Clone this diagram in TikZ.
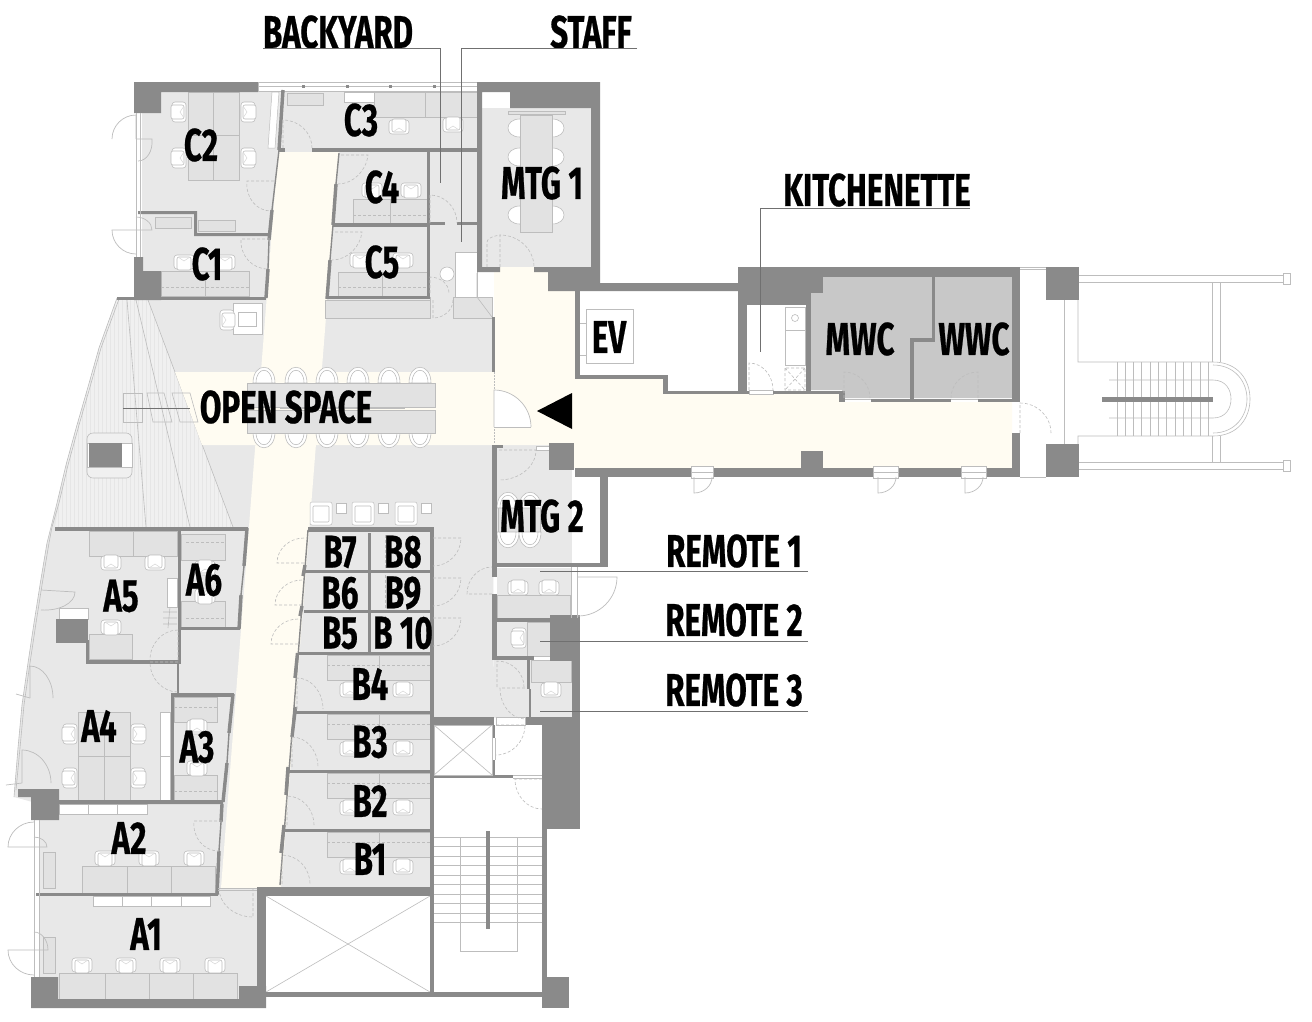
\documentclass[tikz,border=0pt]{standalone}
\usepackage{fontspec}
\usetikzlibrary{calc}
\newfontfamily\labf[FakeStretch=0.68,FakeBold=0.5]{Fira Sans}
\definecolor{wallc}{HTML}{8A8A8A}
\definecolor{floorc}{HTML}{E8E8E8}
\definecolor{creamc}{HTML}{FFFCF2}
\definecolor{wcc}{HTML}{C8C8C8}
\definecolor{loungec}{HTML}{F0F0F0}
\definecolor{stripec}{HTML}{E6E6E6}
\definecolor{deskc}{HTML}{E2E2E2}
\definecolor{edgec}{HTML}{BDBDBD}
\definecolor{softc}{HTML}{D6D6D6}
\definecolor{leadc}{HTML}{707070}
\tikzset{
  wallf/.style={fill=wallc,draw=none},
  thick wall/.style={draw=wallc,line width=3.4pt},
  thin wall/.style={draw=wallc,line width=1.4pt},
  deskbox/.style={fill=deskc,draw=edgec,line width=.5pt},
  whitebox/.style={fill=white,draw=edgec,line width=.5pt},
  fine/.style={draw=edgec,line width=.6pt},
  doorline/.style={draw=edgec,line width=.6pt,dash pattern=on 3pt off 2pt},
  solidoor/.style={draw=edgec,line width=.7pt},
  leader/.style={draw=leadc,line width=.8pt},
  lab/.style={inner sep=0pt,font=\labf\bfseries\fontsize{46}{46}\selectfont,text=black},
}
% quarter door: hinge, leaf vector, arc-end vector
\newcommand{\doorq}[7][doorline]{\draw[#1] (#2,#3) -- ++(#4,#5) .. controls ($(#2,#3)+(#4,#5)+.55*(#6,#7)$) and ($(#2,#3)+(#6,#7)+.55*(#4,#5)$) .. ($(#2,#3)+(#6,#7)$);}
\newcommand{\chairat}[3]{\begin{scope}[shift={(#1,#2)},rotate=#3]
  \draw[fill=white,draw=edgec,line width=.6pt,rounded corners=3pt] (-10,-7) rectangle (10,7);
  \draw[fill=white,draw=edgec,line width=.6pt,rounded corners=2pt] (-7,-5) rectangle (7,8);
  \draw[draw=softc,line width=.5pt] (-6,-5) -- (0,-1) -- (6,-5);
\end{scope}}
\newcommand{\archtop}[2]{\draw[fill=white,draw=edgec,line width=.6pt] (#1-11,#2+18) .. controls (#1-11,#2-3) and (#1+11,#2-3) .. (#1+11,#2+18) -- cycle;
  \draw[fine] (#1-8,#2+18) .. controls (#1-8,#2+1) and (#1+8,#2+1) .. (#1+8,#2+18);}
\newcommand{\archbot}[2]{\draw[fill=white,draw=edgec,line width=.6pt] (#1-11,#2) .. controls (#1-11,#2+21) and (#1+11,#2+21) .. (#1+11,#2) -- cycle;
  \draw[fine] (#1-8,#2) .. controls (#1-8,#2+17) and (#1+8,#2+17) .. (#1+8,#2);}
\newcommand{\gapwin}[4]{\fill[white] (#1,#2) rectangle (#3,#4); \draw[fine] (#1,#2) rectangle (#3,#4); \draw[fine] (#1,{(#2+#4)/2}) -- (#3,{(#2+#4)/2});}
\begin{document}
\begin{tikzpicture}[x=1pt,y=-1pt]
\useasboundingbox (0,0) rectangle (1312,1021);
\fill[white] (0,0) rectangle (1312,1021);
%---------- floors
\fill[floorc] (142,92) -- (477,92) -- (477,297) -- (492,317) -- (494,718) -- (434,718) -- (434,887) -- (257,887) -- (257,999) -- (40,999) -- (40,804) -- (14,797) -- (18,748) -- (22,705) -- (28,663) -- (34,623) -- (40,585) -- (47,543) -- (57,503) -- (66,465) -- (77,425) -- (88,387) -- (99,348) -- (117,298) -- (134,298) -- (142,260) -- cycle;
\fill[floorc] (482,92) rectangle (591,267);
\fill[floorc] (497,444) rectangle (572,563);
\fill[floorc] (497,568) rectangle (571,618);
\fill[floorc] (497,622) rectangle (550,656);
\fill[floorc] (494,656) rectangle (530,718);
\fill[floorc] (527,660) rectangle (572,719);
\fill[wcc] (811,277) -- (1012,277) -- (1012,398) -- (842,398) -- (842,390) -- (811,390) -- cycle;
%---------- lounge
\fill[loungec] (117,298) -- (148,300) -- (233,527) -- (55,527) -- (66,465) -- (77,425) -- (88,387) -- (99,348) -- cycle;
\begin{scope}
\clip (117,298) -- (148,300) -- (233,527) -- (55,527) -- (66,465) -- (77,425) -- (88,387) -- (99,348) -- cycle;
\foreach \xx in {50,54,...,234}{\draw[stripec,line width=.4pt] (\xx,298) -- (\xx,527);}
\end{scope}
\draw[fine] (127,300) -- (146,527) (136,300) -- (190,527) (148,300) -- (233,527);
\draw[fine] (119,299) -- (101,348) -- (90,387) -- (79,425) -- (68,465) -- (59,503) -- (52,527) -- (49,543) -- (42,585) -- (36,623) -- (30,663) -- (24,705) -- (20,748) -- (16,790);
\draw[fine] (117,298) -- (99,348) -- (88,387) -- (77,425) -- (66,465) -- (57,503) -- (47,543) -- (40,585) -- (34,623) -- (28,663) -- (22,705) -- (18,748) -- (14,797);
%---------- cream circulation
\fill[creamc] (278,152) -- (339,152) -- (281,888) -- (221,888) -- cycle;
\fill[creamc] (175,372) -- (494,372) -- (494,445) -- (202,445) -- cycle;
\fill[creamc] (494,267) -- (548,267) -- (548,291) -- (578,291) -- (578,375) -- (665,379) -- (665,393) -- (842,393) -- (842,402) -- (1012,402) -- (1012,468) -- (574,468) -- (574,445) -- (494,445) -- cycle;
%---------- EV and kitchen white
\fill[white] (580,291) -- (738,291) -- (738,391) -- (668,391) -- (668,375) -- (580,375) -- cycle;
\draw[fine] (586,309) rectangle (633,363);
\draw[fine,fill=white] (577,323) rectangle (586,355);
\draw[whitebox] (785,307) rectangle (805,330);
\draw[fine] (795,318) circle (3.5);
\draw[whitebox] (785,330) rectangle (805,365);
\draw[doorline] (785,368) rectangle (805,390) (785,368) -- (805,390) (805,368) -- (785,390);
%---------- C zone furniture
\draw[deskbox] (188,92) rectangle (239,180);
\draw[fine] (213,92) -- (213,180) (188,135) -- (239,135);
\chairat{179}{112}{-90}\chairat{179}{158}{-90}\chairat{248}{112}{90}\chairat{248}{158}{90}
\draw[whitebox] (272,92) -- (279,92) -- (275,148) -- (268,148) -- cycle;
\draw[deskbox] (155,217) rectangle (191,228);
\draw[deskbox] (198,220) rectangle (235,231);
\draw[deskbox] (161,271) rectangle (249,296);
\draw[fine] (205,271) -- (205,296);
\draw[doorline] (161,287) -- (249,287);
\chairat{184}{262}{0}\chairat{225}{262}{0}
\draw[deskbox] (287,93) rectangle (323,105);
\draw[whitebox] (344,92) rectangle (374,102);
\draw[deskbox] (374,92) rectangle (477,117);
\draw[fine] (425,92) -- (425,117);
\chairat{399}{127}{180}\chairat{453}{125}{180}
\draw[deskbox] (353,199) rectangle (427,223);
\draw[fine] (390,199) -- (390,223);
\draw[doorline] (353,215) -- (427,215);
\chairat{411}{190}{0}\chairat{372}{190}{0}
\draw[deskbox] (338,272) rectangle (427,296);
\draw[fine] (382,272) -- (382,296);
\draw[doorline] (338,287) -- (427,287);
\chairat{360}{260}{0}\chairat{403}{260}{0}
% backyard + staff
\draw[whitebox] (455,252) rectangle (477,297);
\draw[fine,fill=white] (447,274) circle (7);
\draw[deskbox] (453,297) rectangle (492,318);
\draw[deskbox] (325,300) rectangle (430,318);
\draw[fine] (477,273) -- (477,297) -- (492,317);
\draw[fine] (430,297) -- (430,318);
% copier
\draw[whitebox] (233,303) rectangle (262,334);
\draw[fine] (238,312) rectangle (256,326);
\chairat{227}{320}{90}
%---------- MTG 1
\fill[white] (482,92) rectangle (510,108);
\draw[deskbox] (508,111) rectangle (565,114);
\foreach \yy in {128,157,215}{
  \draw[fill=white,draw=edgec,line width=.6pt] (520,\yy-9) .. controls (504,\yy-9) and (504,\yy+9) .. (520,\yy+9);
  \draw[fill=white,draw=edgec,line width=.6pt] (552,\yy-9) .. controls (568,\yy-9) and (568,\yy+9) .. (552,\yy+9);
}
\draw[deskbox] (520,115) rectangle (552,232);
%---------- open space table
\foreach \xx in {264,296,327,358,389,420}{\archtop{\xx}{365}\archbot{\xx}{432}}
\draw[deskbox] (247,383) rectangle (435,407);
\draw[deskbox] (247,410) rectangle (435,433);
\draw[fine] (280,408.5) -- (405,408.5);
% lounge items
\draw[fine] (123,393) rectangle (142,422);
\draw[fine] (147,393) -- (164,393) -- (172,422) -- (153,422) -- cycle;
\draw[fine] (172,393) -- (190,393) -- (198,422) -- (180,422) -- cycle;
\draw[leadc,line width=.5pt] (123,408) -- (190,408);
\draw[fill=loungec,draw=edgec,line width=.6pt,rounded corners=6pt] (87,433) -- (132,433) -- (132,478) -- (87,478) -- cycle;
\draw[whitebox] (87,443) rectangle (132,467);
\fill[wallc] (89,443) rectangle (122,467);
% armchairs
\foreach \xx in {310,352,395}{\draw[whitebox,rounded corners=2pt] (\xx,502) rectangle (\xx+22,525); \draw[fine,rounded corners=1pt] (\xx+3,506) rectangle (\xx+19,522);}
\foreach \xx in {336,378,421}{\draw[whitebox] (\xx,503) rectangle (\xx+10,513);}
%---------- A zone furniture
\draw[deskbox] (89,531) rectangle (177,556);
\draw[fine] (133,531) -- (133,556);
\chairat{111}{563}{180}\chairat{155}{563}{180}
\draw[deskbox] (89,634) rectangle (132,659);
\chairat{111}{627}{0}
\draw[whitebox] (167,578) rectangle (177,607);
\draw[fine] (163,612) -- (177,612) (163,618) -- (177,618) (163,624) -- (177,624) (170,607) -- (168,628);
\draw[whitebox] (59,608) rectangle (88,619);
\draw[deskbox] (181,534) rectangle (225,560);
\draw[doorline] (186,542) -- (225,542);
\chairat{205}{568}{180}
\draw[deskbox] (181,601) rectangle (225,627);
\draw[doorline] (186,618) -- (225,618);
\chairat{205}{596}{0}
\draw[deskbox] (78,712) rectangle (130,800);
\draw[fine] (104,712) -- (104,800) (78,756) -- (130,756);
\chairat{70}{734}{-90}\chairat{70}{778}{-90}\chairat{138}{734}{90}\chairat{138}{778}{90}
\draw[whitebox] (160,712) rectangle (170,800);
\draw[fine] (160,756) -- (170,756);
\draw[deskbox] (174,697) rectangle (217,722);
\draw[doorline] (174,707) -- (217,707);
\chairat{197}{727}{180}
\draw[deskbox] (174,775) rectangle (217,800);
\draw[doorline] (174,791) -- (217,791);
\chairat{197}{768}{0}
\draw[whitebox] (59,804) rectangle (147,814);
\draw[fine] (88,804) -- (88,814) (117,804) -- (117,814);
\chairat{105}{858}{0}\chairat{149}{858}{0}\chairat{194}{858}{0}
\draw[deskbox] (82,866) rectangle (215,893);
\draw[fine] (127,866) -- (127,893) (171,866) -- (171,893);
\draw[deskbox] (43,852) rectangle (55,888);
\draw[deskbox] (43,937) rectangle (55,973);
\draw[whitebox] (93,896) rectangle (210,906);
\draw[fine] (122,896) -- (122,906) (151,896) -- (151,906) (181,896) -- (181,906);
\chairat{82}{965}{0}\chairat{126}{965}{0}\chairat{170}{965}{0}\chairat{215}{965}{0}
\draw[deskbox] (59,973) rectangle (237,999);
\draw[fine] (105,973) -- (105,999) (149,973) -- (149,999) (193,973) -- (193,999);
%---------- B zone furniture
\foreach \yy in {655,714,773,832}{
  \chairat{350}{\yy+35}{180}\chairat{403}{\yy+35}{180}
  \draw[deskbox] (327,\yy) rectangle (430,\yy+25);
  \draw[fine] (379,\yy) -- (379,\yy+25);
  \draw[doorline] (327,\yy+10) -- (430,\yy+10);
}
\draw[doorline] (385,535) -- (385,568) (385,575) -- (385,608) (385,616) -- (385,650);
%---------- Remote rooms + MTG 2
\draw[deskbox] (498,504) rectangle (540,532);
\foreach \xx in {508,530}{\archtop{\xx}{490}\archbot{\xx}{532}}
\draw[deskbox] (497,595) rectangle (570,618);
\chairat{518}{588}{180}\chairat{549}{588}{180}
\draw[deskbox] (527,622) rectangle (550,656);
\chairat{519}{638}{-90}
\draw[deskbox] (531,660) rectangle (571,682);
\chairat{551}{690}{180}
%---------- walls: top-left block
\fill[wallc] (134,82) -- (258,82) -- (258,92) -- (161,92) -- (161,113) -- (134,113) -- cycle;
\draw[fine] (258,82) rectangle (477,91);
\draw[fine] (258,86) -- (477,86);
\foreach \xx in {302,346,389,433}{\fill[wallc] (\xx,85) rectangle (\xx+3,88);}
\fill[wallc] (477,82) -- (600,82) -- (600,283) -- (738,283) -- (738,291) -- (600,291) -- (548,291) -- (548,272) -- (534,272) -- (534,267) -- (591,267) -- (591,108) -- (510,108) -- (510,92) -- (482,92) -- (482,267) -- (500,267) -- (500,272) -- (477,272) -- cycle;
% C walls
\fill[wallc] (312,148) rectangle (477,152);
\fill[wallc] (279,148) rectangle (285,152);
\draw[thick wall] (283,90) -- (279,150);
\draw[thin wall] (279,150) -- (272,210);
\draw[thick wall] (272,210) -- (269,240);
\draw[thin wall] (269,240) -- (268,269);
\draw[thick wall] (268,269) -- (266,298);
\draw[thin wall] (339,153) -- (336,184);
\draw[thick wall] (336,184) -- (333,225);
\draw[thin wall] (333,225) -- (330,260);
\draw[thick wall] (330,260) -- (327,299);
\fill[wallc] (427,152) rectangle (430,299);
\fill[wallc] (333,223) rectangle (430,227);
\fill[wallc] (430,222) rectangle (445,225);
\fill[wallc] (457,222) rectangle (477,225);
\fill[wallc] (327,296) rectangle (430,299);
\fill[wallc] (117,297) rectangle (266,300);
\fill[wallc] (134,300) -- (161,300) -- (161,271) -- (143,271) -- (143,257) -- (134,257) -- cycle;
\fill[wallc] (138,211) -- (197,211) -- (197,233) -- (269,233) -- (269,236) -- (194,236) -- (194,214) -- (138,214) -- cycle;
\draw[fine] (136,113) -- (136,257) (140,113) -- (140,257);
%---------- central partition
\fill[wallc] (492,317) rectangle (495,372);
\draw[edgec,line width=.5pt,dash pattern=on 2pt off 1pt] (494,372) -- (494,443);
\fill[wallc] (492,445) rectangle (497,577);
\fill[wallc] (497,445) rectangle (503,448);
\draw[whitebox] (536,446) rectangle (549,450);
\fill[wallc] (492,594) rectangle (497,660);
\fill[white] (494,427) -- (494,390) .. controls (514,390) and (531,407) .. (531,427) -- cycle;
\doorq[solidoor]{494}{427}{0}{-37}{37}{0}
\draw[solidoor] (494,427) -- (531,427);
%---------- A walls
\fill[wallc] (55,527) rectangle (248,531);
\fill[wallc] (178,531) rectangle (181,663);
\fill[wallc] (86,660) rectangle (181,664);
\fill[wallc] (86,640) rectangle (89,664);
\fill[wallc] (56,619) rectangle (88,643);
\fill[wallc] (179,627) rectangle (240,630);
\draw[thin wall] (178,664) -- (178,693);
\draw[thick wall] (247,528) -- (244,566);
\draw[thin wall] (244,566) -- (241,595);
\draw[thick wall] (241,595) -- (239,629);
\fill[wallc] (171,693) rectangle (234,697);
\fill[wallc] (171,693) rectangle (174,803);
\draw[thick wall] (233,694) -- (229,733);
\draw[thin wall] (229,733) -- (227,763);
\draw[thick wall] (227,763) -- (223,802);
\fill[wallc] (18,789) -- (59,789) -- (59,800) -- (223,800) -- (223,804) -- (59,804) -- (59,820) -- (31,820) -- (31,797) -- (18,797) -- cycle;
\draw[thick wall] (222,804) -- (221,822);
\draw[thin wall] (221,822) -- (219,851);
\draw[thick wall] (219,851) -- (217,895);
\fill[wallc] (36,893) rectangle (218,896);
\draw[fine] (34,820) -- (34,977) (39,820) -- (39,977);
\draw[fine] (218,888) -- (257,888) (218,890) -- (257,890);
\fill[wallc] (257,887) rectangle (266,986);
\fill[wallc] (31,977) -- (58,977) -- (58,999) -- (239,999) -- (239,986) -- (266,986) -- (266,1008) -- (31,1008) -- cycle;
%---------- B walls
\fill[wallc] (308,527) rectangle (434,532);
\fill[wallc] (430,527) rectangle (434,992);
\draw[thin wall] (308,530) -- (280,885);
\draw[thick wall] (295.5,707) -- (292,737);
\draw[thick wall] (288,767) -- (286,795);
\draw[thick wall] (284,825) -- (281,853);
\draw[thick wall] (297.5,653) -- (295,678);
\draw[thick wall] (305,565) -- (303,576);
\draw[thick wall] (302,606) -- (300,616);
\foreach \yy in {570,610}{\fill[wallc] (304,\yy) rectangle (430,\yy+3);}
\fill[wallc] (298,652) rectangle (430,655);
\fill[wallc] (368,533) rectangle (371,652);
\fill[wallc] (294,711) rectangle (430,714);
\fill[wallc] (289,770) rectangle (430,773);
\fill[wallc] (285,829) rectangle (430,832);
%---------- void + core
\fill[wallc] (257,887) rectangle (430,896);
\draw[fine] (266,896) -- (430,992) (430,896) -- (266,992);
\fill[wallc] (266,992) rectangle (542,997);
\fill[white] (434,725) rectangle (542,992);
\fill[wallc] (430,717) rectangle (494,725);
\fill[wallc] (525,717) rectangle (580,725);
\draw[fine,fill=white] (496,717) rectangle (525,725);
\fill[wallc] (430,717) rectangle (434,997);
\fill[wallc] (434,775) rectangle (513,778);
\draw[fine] (513,775) -- (542,775) (513,778) -- (542,778);
\fill[wallc] (492,725) rectangle (495,775);
\draw[fine] (434,725) rectangle (492,775);
\draw[fine] (434,725) -- (492,775) (492,725) -- (434,775);
\fill[white] (492.5,738) rectangle (495,760);
\draw[fine] (492,738) -- (492,760) (495,738) -- (495,760);
% stairs
\foreach \yy in {837,846.5,856,865.5,875,884.5,894,903.5,913,922}{\draw[fine] (434,\yy) -- (542,\yy);}
\draw[fine] (460,837) -- (460,951) -- (517,951) -- (517,837);
\fill[wallc] (486,831) rectangle (490,929);
% right mass
\fill[wallc] (572,617) rectangle (580,725);
\fill[wallc] (550,615) rectangle (580,661);
\fill[wallc] (542,725) rectangle (580,829);
\fill[wallc] (542,829) rectangle (547,997);
\fill[wallc] (542,977) rectangle (569,1008);
% remote rooms walls
\fill[wallc] (492,563) rectangle (608,567);
\fill[wallc] (600,477) rectangle (608,567);
\fill[wallc] (497,618) rectangle (550,622);
\fill[wallc] (497,656) rectangle (534,660);
\fill[wallc] (527,660) rectangle (530,689);
\draw[thin wall] (530,689) -- (530,717);
\draw[fine] (571,567) -- (571,618) (577,567) -- (577,618);
\doorq[solidoor]{578}{577}{39}{0}{0}{39}
%---------- right wing walls
\fill[wallc] (549,443) rectangle (574,470);
\fill[wallc] (575,468) rectangle (1020,477);
\fill[wallc] (801,451) rectangle (823,470);
\gapwin{691}{466}{713}{478}
\gapwin{873}{466}{898}{478}
\gapwin{961}{466}{986}{478}
\fill[wallc] (575,291) rectangle (580,375);
\fill[wallc] (575,375) rectangle (668,379);
\fill[wallc] (663,375) rectangle (668,394);
\fill[wallc] (663,391) rectangle (749,394);
\draw[fine,fill=white] (749,390.5) rectangle (773,394);
\fill[wallc] (773,391) rectangle (842,394);
\fill[wallc] (839,391) rectangle (845,402);
\fill[wallc] (871,399) rectangle (951,402);
\fill[wallc] (978,399) rectangle (1020,402);
\draw[fine] (845,399) -- (871,399) (951,399) -- (978,399);
\fill[wallc] (738,267) rectangle (1020,277);
\fill[wallc] (738,267) rectangle (747,394);
\fill[wallc] (747,277) rectangle (806,305);
\fill[wallc] (803,277) rectangle (823,293);
\fill[wallc] (806,277) rectangle (811,391);
\fill[wallc] (1012,267) rectangle (1020,402);
\fill[wallc] (1012,433) rectangle (1020,477);
\fill[wallc] (932,277) rectangle (935,342);
\fill[wallc] (910,338) rectangle (935,342);
\fill[wallc] (910,338) rectangle (914,399);
\draw[fine] (1020,267) -- (1046,267) (1020,269) -- (1046,269) (1020,477) -- (1046,477);
\fill[wallc] (1046,267) rectangle (1079,300);
\fill[wallc] (1046,444) rectangle (1079,477);
%---------- external stair
\draw[fine] (1064,300) -- (1064,444);
\draw[fine] (1079,275) -- (1283,275) (1079,282) -- (1283,282) (1079,462) -- (1283,462) (1079,469) -- (1283,469);
\draw[fine] (1283,273) rectangle (1290,284) (1283,460) rectangle (1290,471);
\draw[fine] (1212,282) -- (1212,362) (1220,282) -- (1220,362) (1212,436) -- (1212,462) (1220,436) -- (1220,462);
\draw[fine] (1078,300) -- (1078,362) -- (1213,362) .. controls (1238,362) and (1250,380) .. (1250,399) .. controls (1250,418) and (1238,436) .. (1213,436) -- (1078,436) -- (1078,444);
\draw[fine] (1213,365) .. controls (1235,365) and (1247,382) .. (1247,399) .. controls (1247,416) and (1235,433) .. (1213,433);
\draw[fine] (1109,380) -- (1213,380) .. controls (1226,380) and (1231,390) .. (1231,399) .. controls (1231,408) and (1226,418) .. (1213,418) -- (1109,418);
\foreach \xx in {1117,1125,1133,1141,1150,1158,1166,1175,1183,1191,1200,1208}{\draw[fine] (\xx,362) -- (\xx,436);}
\fill[wallc] (1102,397) rectangle (1213,402);
%---------- doors
\doorq{283}{148}{0}{-28}{29}{0}
\doorq{274}{181}{-27}{0}{-3}{30}
\doorq{270}{239}{-29}{0}{-2}{30}
\doorq{341}{155}{27}{0}{-3}{29}
\doorq{335}{232}{27}{0}{-3}{28}
\doorq{430}{223}{0}{-28}{27}{0}
\doorq{430}{293}{0}{-16}{19}{0}
\doorq{433}{300}{0}{18}{20}{0}
\doorq{500}{267}{0}{-32}{34}{0}
\draw[doorline] (487,267) -- (487,242) .. controls (487,238) and (494,236) .. (500,235);
\doorq{499}{450}{37}{0}{0}{30}
\doorq[solidoor]{136}{139}{0}{-24}{-24}{0}
\doorq[solidoor]{136}{139}{16}{0}{2}{22}
\doorq[solidoor]{136}{230}{-24}{0}{0}{24}
\doorq[solidoor]{136}{230}{16}{0}{0}{-13}
\doorq{178}{660}{0}{-30}{-28}{0}
\doorq{178}{662}{-28}{0}{0}{30}
\doorq{222}{821}{-28}{0}{-3}{30}
\doorq{253}{888}{0}{29}{-34}{0}
\doorq[solidoor]{30}{698}{0}{-32}{23}{0}
\draw[solidoor] (30,698) -- (16,694);
\doorq[solidoor]{22}{783}{0}{-33}{29}{0}
\draw[solidoor] (22,783) -- (6,785);
\doorq[solidoor]{41}{590}{34}{2}{0}{20}
\doorq[solidoor]{34}{847}{-26}{0}{0}{-25}
\doorq[solidoor]{34}{847}{13}{0}{0}{-10}
\doorq[solidoor]{34}{950}{-26}{0}{0}{25}
\doorq[solidoor]{34}{950}{14}{0}{0}{-18}
\doorq{304}{563}{-27}{0}{0}{-25}
\doorq{302}{605}{-27}{0}{0}{-25}
\doorq{298}{644}{-27}{0}{0}{-25}
\doorq{433}{538}{28}{0}{0}{28}
\doorq{433}{578}{28}{0}{0}{28}
\doorq{433}{618}{28}{0}{0}{28}
\doorq{297}{709}{0}{-31}{26}{0}
\doorq{292}{767}{0}{-30}{26}{0}
\doorq{287}{825}{0}{-29}{27}{0}
\doorq{282}{884}{0}{-29}{28}{0}
\doorq{492}{594}{-25}{0}{0}{-27}
\doorq{497}{687}{0}{-26}{27}{0}
\doorq{525}{688}{-25}{0}{0}{31}
\doorq{496}{725}{29}{0}{0}{30}
\doorq{542}{779}{-27}{0}{0}{30}
\doorq{749}{390}{0}{-27}{24}{0}
\doorq{844}{398}{0}{-26}{26}{0}
\doorq{978}{398}{0}{-26}{-27}{0}
\doorq{1020}{433}{0}{-30}{31}{0}
\doorq[solidoor]{694}{477}{0}{16}{18}{0}
\doorq[solidoor]{878}{477}{0}{16}{18}{0}
\doorq[solidoor]{965}{477}{0}{16}{18}{0}
%---------- entrance arrow
\fill[black] (537,411) -- (572,393) -- (572,429) -- cycle;
%---------- labels
\node[lab] (backyard) at (338,32) {BACKYARD};
\node[lab] (staff) at (591,32) {STAFF};
\node[lab] (kitchenette) at (877,190) {KITCHENETTE};
\node[lab] (rem1) at (734,551) {REMOTE 1};
\node[lab] (rem2) at (734,620) {REMOTE 2};
\node[lab] (rem3) at (734,690) {REMOTE 3};
\node[lab] (c3) at (361,120) {C3};
\node[lab] (c2) at (201,145) {C2};
\node[lab] (c4) at (382,187) {C4};
\node[lab] (c5) at (382,262) {C5};
\node[lab] (c1) at (207,264) {C1};
\node[lab] (mtg1) at (542,183) {MTG 1};
\node[lab] (ev) at (609,337) {EV};
\node[lab] (mwc) at (860,339) {MWC};
\node[lab] (wwc) at (974,339) {WWC};
\node[lab] (open) at (286,407) {OPEN SPACE};
\node[lab] (mtg2) at (542,516) {MTG 2};
\node[lab] (b7) at (340,552) {B7};
\node[lab] (b8) at (403,552) {B8};
\node[lab] (b6) at (340,593) {B6};
\node[lab] (b9) at (403,593) {B9};
\node[lab] (b5) at (340,633) {B5};
\node[lab] (b10) at (403,633) {B 10};
\node[lab] (b4) at (370,684) {B4};
\node[lab] (b3) at (370,742) {B3};
\node[lab] (b2) at (370,801) {B2};
\node[lab] (b1) at (370,859) {B1};
\node[lab] (a6) at (204,580) {A6};
\node[lab] (a5) at (121,596) {A5};
\node[lab] (a4) at (99,726) {A4};
\node[lab] (a3) at (197,747) {A3};
\node[lab] (a2) at (129,838) {A2};
\node[lab] (a1) at (146,934) {A1};
%---------- leaders
\coordinate (byA) at (263,48); \coordinate (byB) at (440,48); \coordinate (byC) at (440,183);
\coordinate (stA) at (637,48); \coordinate (stB) at (461,48); \coordinate (stC) at (461,242);
\coordinate (kiA) at (970,208); \coordinate (kiB) at (760,208); \coordinate (kiC) at (760,352);
\coordinate (r1A) at (808,571); \coordinate (r1B) at (540,571);
\coordinate (r2A) at (808,641); \coordinate (r2B) at (540,641);
\coordinate (r3A) at (808,711); \coordinate (r3B) at (540,711);
\draw[leader] (byA) -- (byB) -- (byC);
\draw[leader] (stA) -- (stB) -- (stC);
\draw[leader] (kiA) -- (kiB) -- (kiC);
\draw[leader] (r1A) -- (r1B);
\draw[leader] (r2A) -- (r2B);
\draw[leader] (r3A) -- (r3B);
\end{tikzpicture}
\end{document}
